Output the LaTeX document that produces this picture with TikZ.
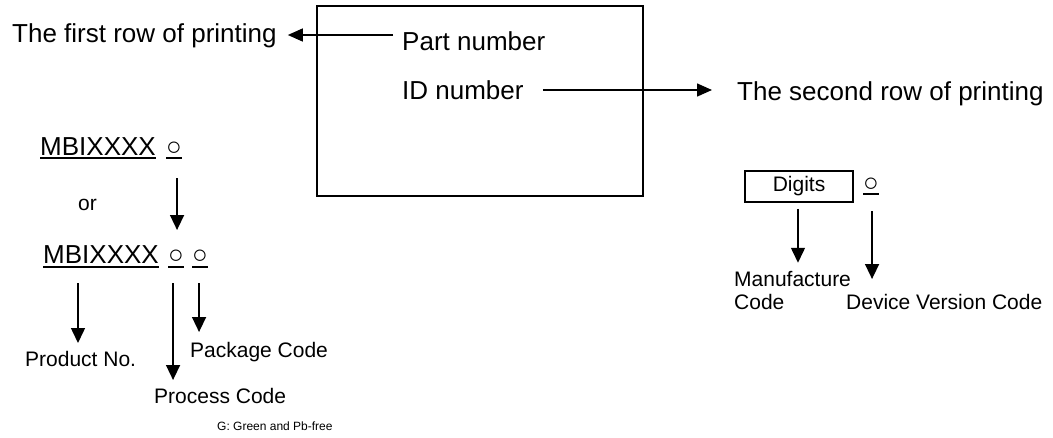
\documentclass[tikz,border=0pt]{standalone}
\usepackage{fontspec}
\setmainfont{Liberation Sans}
\usetikzlibrary{arrows.meta,calc}
\begin{document}
\begin{tikzpicture}[x=1pt,y=-1pt,
  big/.style={font=\fontsize{26}{30}\selectfont, inner sep=0pt, anchor=base west},
  mid/.style={font=\fontsize{21}{25}\selectfont, inner sep=0pt, anchor=base west},
  tiny/.style={font=\fontsize{12}{14}\selectfont, inner sep=0pt, anchor=base west},
  arr/.style={line width=1.5pt, -{Triangle[length=15pt,width=14pt]}},
  harr/.style={line width=1.5pt, -{Triangle[length=15pt,width=13pt]}},
  ul/.style={line width=1.5pt}]
\useasboundingbox (0,0) rectangle (1053,437);
% chip outline
\node[draw, line width=1.5pt, minimum width=326pt, minimum height=190pt, inner sep=0pt] (chip) at (480,101) {};
\node[big] (pn) at (402,50) {Part number};
\node[big] (idn) at (402,99) {ID number};
\node[big] (first) at (12,42) {The first row of printing};
\node[big] (second) at (737,100) {The second row of printing};
\draw[harr] ($(pn.base west)+(-9,-15)$) -- ($(first.base east)+(11,-7)$);
\draw[harr] ($(idn.base east)+(19,-9)$) -- ($(second.base west)+(-25,-10)$);
% left codes
\node[big] (m1) at (40,155) {MBIXXXX};
\node[big] (c1) at (166,155) {○};
\draw[ul] ($(m1.base west)+(0,3)$) -- ($(m1.base east)+(0,3)$);
\draw[ul] ($(c1.base west)+(0,3)$) -- ($(c1.base east)+(0,3)$);
\node[mid] (or) at (78,210) {or};
\node[big] (m2) at (43,263) {MBIXXXX};
\node[big] (c2) at (168,263) {○};
\node[big] (c3) at (192,263) {○};
\draw[ul] ($(m2.base west)+(0,4)$) -- ($(m2.base east)+(0,4)$);
\draw[ul] ($(c2.base west)+(0,4)$) -- ($(c2.base east)+(0,4)$);
\draw[ul] ($(c3.base west)+(0,4)$) -- ($(c3.base east)+(0,4)$);
\draw[arr] ($(c1.base)+(3,23)$) -- ($(c2.base)+(1,-33)$);
\node[mid] (prod) at (25,366) {Product No.};
\node[mid] (proc) at (154,403) {Process Code};
\node[mid] (pack) at (190,357) {Package Code};
\node[tiny] (green) at (217,430) {G: Green and Pb-free};
\draw[arr] ($(m2.base west)+(35,20)$) -- ($(m2.base west)+(35,80)$);
\draw[arr] ($(c2.base)+(-3,20)$) -- ($(c2.base)+(-3,117)$);
\draw[arr] ($(c3.base)+(-1,20)$) -- ($(c3.base)+(-1,69)$);
% right codes
\node[draw, line width=1.5pt, minimum width=108pt, minimum height=31pt, inner sep=0pt, font=\fontsize{21}{25}\selectfont] (dig) at (799,186.5) {Digits};
\node[big] (c4) at (863,191) {○};
\draw[ul] ($(c4.base west)+(0,3)$) -- ($(c4.base east)+(0,3)$);
\node[mid] (mf1) at (734,286) {Manufacture};
\node[mid] (mf2) at (734,309) {Code};
\node[mid] (dev) at (846,309) {Device Version Code};
\draw[arr] ($(dig.south)+(-1,6)$) -- ($(dig.south)+(-1,60)$);
\draw[arr] ($(c4.base)+(1,20)$) -- ($(c4.base)+(1,88)$);
\end{tikzpicture}
\end{document}
